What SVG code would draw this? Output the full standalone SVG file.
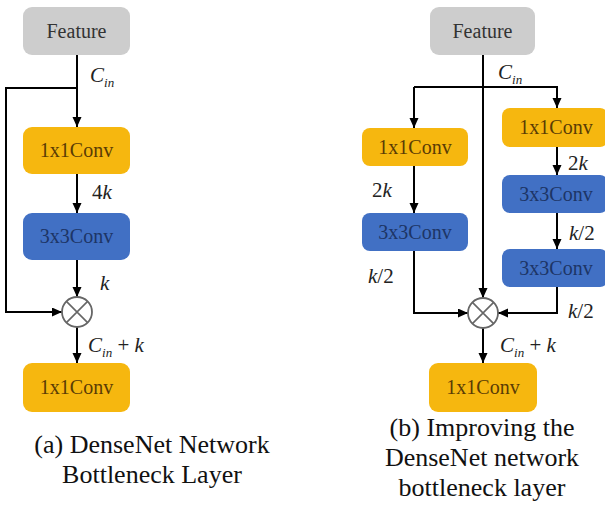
<svg xmlns="http://www.w3.org/2000/svg" width="605" height="506" viewBox="0 0 605 506">
<style>
.feat{fill:#cdcdcd}
.orange{fill:#f6b70f}
.blue{fill:#4170c4}
.ln{stroke:#000;stroke-width:2;fill:none}
.circ{fill:#fff;stroke:#666;stroke-width:1.8}
text{font-family:'Liberation Serif','Times New Roman',serif}
</style>
<defs>
<marker id="ah" markerUnits="userSpaceOnUse" markerWidth="10" markerHeight="10" refX="10" refY="4.5" orient="auto">
<path d="M0,0 L10,4.5 L0,9 z" fill="#000"/>
</marker>
</defs>
<rect width="605" height="506" fill="#fff"/>

<g id="connectors">
<line class="ln" x1="77" y1="55" x2="77" y2="127" marker-end="url(#ah)"/>
<polyline class="ln" points="77,88 6,88 6,312 62,312" marker-end="url(#ah)"/>
<line class="ln" x1="77" y1="174" x2="77" y2="213" marker-end="url(#ah)"/>
<line class="ln" x1="77" y1="260" x2="77" y2="297" marker-end="url(#ah)"/>
<line class="ln" x1="77" y1="327" x2="77" y2="363" marker-end="url(#ah)"/>
<line class="ln" x1="483" y1="55" x2="483" y2="298" marker-end="url(#ah)"/>
<polyline class="ln" points="414,87 557,87 557,108" marker-end="url(#ah)"/>
<line class="ln" x1="414" y1="87" x2="414" y2="128" marker-end="url(#ah)"/>
<line class="ln" x1="414" y1="166" x2="414" y2="213" marker-end="url(#ah)"/>
<polyline class="ln" points="414,251 414,313 468,313" marker-end="url(#ah)"/>
<line class="ln" x1="557" y1="147" x2="557" y2="175" marker-end="url(#ah)"/>
<line class="ln" x1="557" y1="213" x2="557" y2="249" marker-end="url(#ah)"/>
<polyline class="ln" points="557,287 557,313 498,313" marker-end="url(#ah)"/>
<line class="ln" x1="483" y1="328" x2="483" y2="363" marker-end="url(#ah)"/>
</g>

<g id="labels" font-size="21" fill="#222">
<text x="90" y="82" font-style="italic">C<tspan font-size="13" dy="5">in</tspan></text>
<text x="92" y="199">4<tspan font-style="italic">k</tspan></text>
<text x="100" y="290" font-style="italic">k</text>
<text x="88" y="352"><tspan font-style="italic">C</tspan><tspan font-style="italic" font-size="13" dy="5">in</tspan><tspan dy="-5"> + </tspan><tspan font-style="italic">k</tspan></text>
<text x="498" y="79" font-style="italic">C<tspan font-size="13" dy="5">in</tspan></text>
<text x="372" y="197">2<tspan font-style="italic">k</tspan></text>
<text x="368" y="283"><tspan font-style="italic">k</tspan>/2</text>
<text x="568" y="170">2<tspan font-style="italic">k</tspan></text>
<text x="569" y="240"><tspan font-style="italic">k</tspan>/2</text>
<text x="568" y="318"><tspan font-style="italic">k</tspan>/2</text>
<text x="500" y="352"><tspan font-style="italic">C</tspan><tspan font-style="italic" font-size="13" dy="5">in</tspan><tspan dy="-5"> + </tspan><tspan font-style="italic">k</tspan></text>
</g>

<g font-size="20" text-anchor="middle">
<g id="a-feature"><rect class="feat" x="23" y="7" width="107" height="48" rx="9"/><text x="76.5" y="38" fill="#333">Feature</text></g>
<g id="a-conv1"><rect class="orange" x="23" y="127" width="107" height="47" rx="9"/><text x="76.5" y="157" fill="#5a3c05">1x1Conv</text></g>
<g id="a-conv3"><rect class="blue" x="23" y="213" width="107" height="47" rx="9"/><text x="76.5" y="243" fill="#1d3566">3x3Conv</text></g>
<g id="a-mult"><circle class="circ" cx="77" cy="312" r="15"/><path d="M66.4,301.4 L87.6,322.6 M87.6,301.4 L66.4,322.6" stroke="#666" stroke-width="1.6"/></g>
<g id="a-conv1b"><rect class="orange" x="23" y="363" width="107" height="49" rx="9"/><text x="76.5" y="394" fill="#5a3c05">1x1Conv</text></g>

<g id="b-feature"><rect class="feat" x="430" y="7" width="105" height="48" rx="9"/><text x="482.5" y="38" fill="#333">Feature</text></g>
<g id="b-left-conv1"><rect class="orange" x="362" y="128" width="106" height="38" rx="8"/><text x="415" y="154" fill="#5a3c05">1x1Conv</text></g>
<g id="b-left-conv3"><rect class="blue" x="362" y="213" width="106" height="38" rx="8"/><text x="415" y="239" fill="#1d3566">3x3Conv</text></g>
<g id="b-right-conv1"><rect class="orange" x="502" y="108" width="106" height="39" rx="8"/><text x="556" y="134" fill="#5a3c05">1x1Conv</text></g>
<g id="b-right-conv3a"><rect class="blue" x="502" y="175" width="106" height="38" rx="8"/><text x="556" y="201" fill="#1d3566">3x3Conv</text></g>
<g id="b-right-conv3b"><rect class="blue" x="502" y="249" width="106" height="38" rx="8"/><text x="556" y="275" fill="#1d3566">3x3Conv</text></g>
<g id="b-mult"><circle class="circ" cx="483" cy="313" r="15"/><path d="M472.4,302.4 L493.6,323.6 M493.6,302.4 L472.4,323.6" stroke="#666" stroke-width="1.6"/></g>
<g id="b-conv1b"><rect class="orange" x="429" y="363" width="108" height="49" rx="9"/><text x="483" y="394" fill="#5a3c05">1x1Conv</text></g>
</g>

<g id="captions" font-size="26" fill="#111" text-anchor="middle">
<text x="152" y="453">(a) DenseNet Network</text>
<text x="152" y="483">Bottleneck Layer</text>
<text x="482" y="436">(b) Improving the</text>
<text x="482" y="466">DenseNet network</text>
<text x="482" y="496">bottleneck layer</text>
</g>
</svg>
